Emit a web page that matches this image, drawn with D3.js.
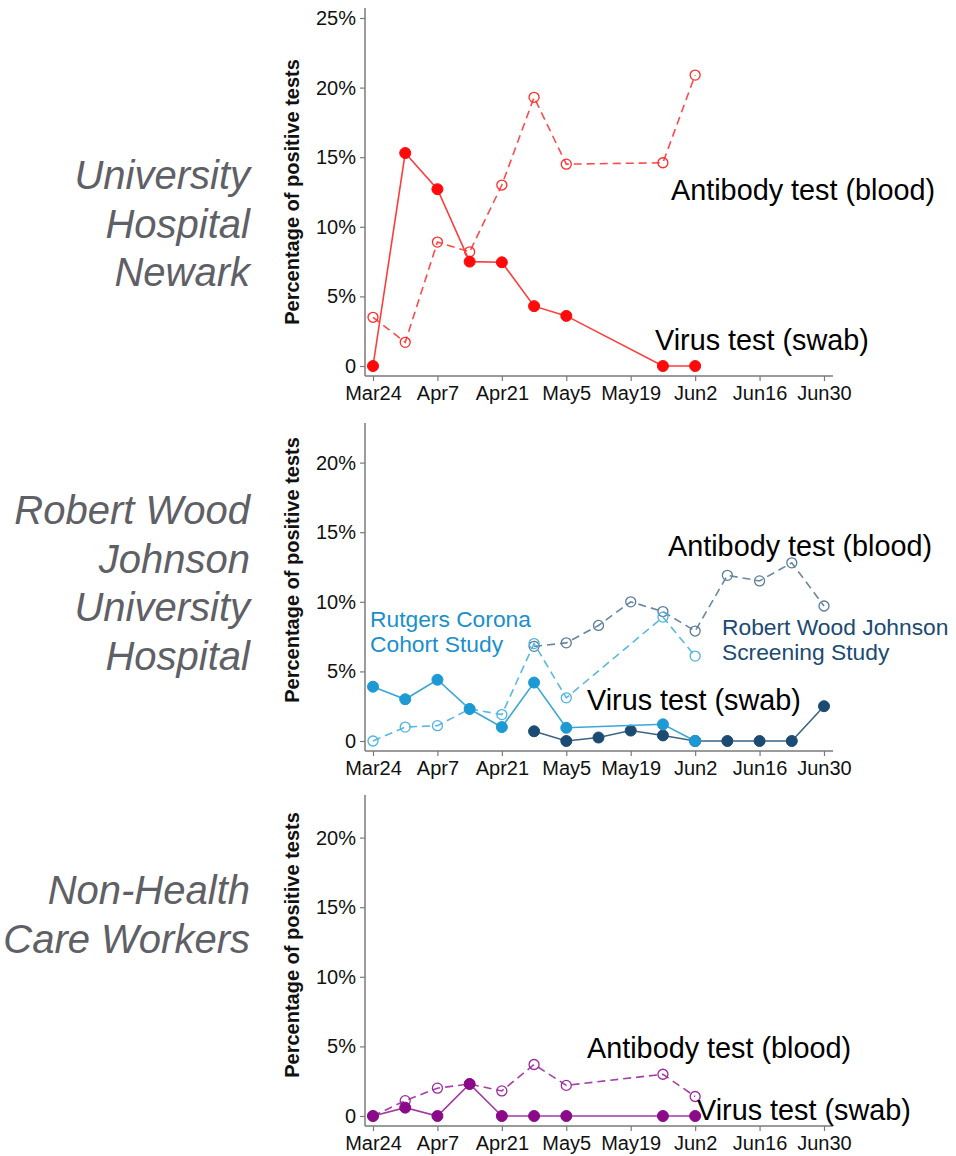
<!DOCTYPE html>
<html><head><meta charset="utf-8">
<script src="https://cdn.jsdelivr.net/npm/d3@7"></script>
<style>
html,body{margin:0;padding:0;background:#fff;}
svg{display:block;font-family:"Liberation Sans",Arial,Helvetica,sans-serif;}
</style></head>
<body>
<script>
// ---------- data ----------
const xTickLabels = ["Mar24","Apr7","Apr21","May5","May19","Jun2","Jun16","Jun30"];
const xTickDates = ["2020-03-24","2020-04-07","2020-04-21","2020-05-05","2020-05-19","2020-06-02","2020-06-16","2020-06-30"];

const weeklyDates = ["2020-03-24","2020-03-31","2020-04-07","2020-04-14","2020-04-21","2020-04-28","2020-05-05","2020-05-26","2020-06-02"];

const newarkVirus    = [0, 15.3, 12.7, 7.5, 7.45, 4.3, 3.6, 0, 0];
const newarkAntibody = [3.5, 1.7, 8.9, 8.2, 13.0, 19.3, 14.5, 14.6, 20.9];

const rutgersVirus    = [3.9, 3.0, 4.4, 2.3, 1.0, 4.2, 0.95, 1.2, 0];
const rutgersAntibody = [0, 1.0, 1.1, 2.3, 1.9, 7.0, 3.1, 8.9, 6.1];

const rwjDates    = ["2020-04-28","2020-05-05","2020-05-12","2020-05-19","2020-05-26","2020-06-02","2020-06-09","2020-06-16","2020-06-23","2020-06-30"];
const rwjVirus    = [0.7, 0, 0.25, 0.75, 0.4, 0, 0, 0, 0, 2.5];
const rwjAntibody = [6.8, 7.05, 8.3, 10.0, 9.3, 7.9, 11.9, 11.5, 12.8, 9.7];

const nonHcwVirus    = [0, 0.6, 0, 2.3, 0, 0, 0, 0, 0];
const nonHcwAntibody = [0, 1.1, 2.0, 2.3, 1.8, 3.7, 2.2, 3.0, 1.4];

const panelTitles = [
  ["University","Hospital","Newark"],
  ["Robert Wood","Johnson","University","Hospital"],
  ["Non-Health","Care Workers"]
];
const yTitle = "Percentage of positive tests";

// ---------- layout ----------
const W = 956, H = 1156;
const parse = d3.timeParse("%Y-%m-%d");
const svg = d3.select("body").append("svg").attr("width", W).attr("height", H);

const x = d3.scaleTime()
  .domain([parse("2020-03-24"), parse("2020-06-30")])
  .range([373, 824]);

const axisColor = "#7a7a7a";

function makePanel(cfg) {
  const y = d3.scaleLinear().domain([0, 5]).range([cfg.y0, cfg.y0 - 69.6]);
  const g = svg.append("g");

  // y axis
  g.append("line").attr("x1", 365).attr("x2", 365)
    .attr("y1", cfg.axisTop).attr("y2", cfg.xAxisY)
    .attr("stroke", axisColor).attr("stroke-width", 1.5);
  const yAx = d3.axisLeft(y).tickValues(cfg.yTicks).tickSize(5).tickPadding(4)
    .tickFormat(d => d === 0 ? "0" : d + "%");
  const gy = g.append("g").attr("transform", "translate(365,0)").call(yAx);
  gy.select(".domain").remove();
  gy.selectAll(".tick line").attr("stroke", axisColor).attr("stroke-width", 1.2);
  gy.selectAll(".tick text").attr("font-size", 20).attr("fill", "#111")
    .attr("font-family", "'Liberation Sans', Arial, sans-serif");

  // x axis
  g.append("line").attr("x1", 365).attr("x2", 833)
    .attr("y1", cfg.xAxisY).attr("y2", cfg.xAxisY)
    .attr("stroke", axisColor).attr("stroke-width", 1.5);
  const xAx = d3.axisBottom(x).tickValues(xTickDates.map(parse)).tickSize(5).tickPadding(5)
    .tickFormat((d, i) => xTickLabels[i]);
  const gx = g.append("g").attr("transform", `translate(0,${cfg.xAxisY})`).call(xAx);
  gx.select(".domain").remove();
  gx.selectAll(".tick line").attr("stroke", axisColor).attr("stroke-width", 1.2);
  gx.selectAll(".tick text").attr("font-size", 20).attr("fill", "#111")
    .attr("font-family", "'Liberation Sans', Arial, sans-serif");

  // y title
  g.append("text")
    .attr("transform", `translate(299,${cfg.yTitleY}) rotate(-90)`)
    .attr("text-anchor", "middle")
    .attr("font-size", 20).attr("font-weight", "bold").attr("fill", "#111")
    .text(yTitle);

  // panel title
  const t = g.append("text").attr("text-anchor", "end")
    .attr("font-size", 40).attr("font-style", "italic").attr("fill", "#5f6066");
  cfg.title.forEach((line, i) => {
    t.append("tspan").attr("x", 250).attr("y", cfg.titleY + i * 48.5).text(line);
  });

  const line = d3.line().x(d => x(d.date)).y(d => y(d.v));

  cfg.series.forEach(s => {
    const pts = s.dates.map((d, i) => ({ date: parse(d), v: s.values[i] }));
    g.append("path").datum(pts).attr("d", line)
      .attr("fill", "none").attr("stroke", s.lineColor || s.color)
      .attr("stroke-width", 1.6)
      .attr("stroke-dasharray", s.dashed ? "8,5" : null);
    g.selectAll(null).data(pts).enter().append("circle")
      .attr("cx", d => x(d.date)).attr("cy", d => y(d.v))
      .attr("r", s.dashed ? 5 : 5.5)
      .attr("fill", s.dashed ? "none" : s.color)
      .attr("stroke", s.color).attr("stroke-width", s.dashed ? 1.3 : 1);
  });

  cfg.labels.forEach(l => {
    const tx = g.append("text").attr("font-size", l.size).attr("fill", l.color)
      .attr("dominant-baseline", "central");
    l.lines.forEach((ln, i) => {
      tx.append("tspan").attr("x", l.x).attr("y", l.y + i * l.lh).text(ln);
    });
  });
}

makePanel({
  y0: 366, axisTop: 8, xAxisY: 376, yTicks: [0,5,10,15,20,25], yTitleY: 192,
  title: panelTitles[0], titleY: 189,
  series: [
    { dates: weeklyDates, values: newarkAntibody, color: "#ff2a2a", lineColor: "#ff4a4a", dashed: true },
    { dates: weeklyDates, values: newarkVirus, color: "#ff0a0a", lineColor: "#ff3b3b", dashed: false }
  ],
  labels: [
    { lines: ["Antibody test (blood)"], x: 671, y: 190, size: 28.8, color: "#000", lh: 0 },
    { lines: ["Virus test (swab)"], x: 655, y: 340, size: 28.8, color: "#000", lh: 0 }
  ]
});

makePanel({
  y0: 741, axisTop: 423, xAxisY: 751, yTicks: [0,5,10,15,20], yTitleY: 570,
  title: panelTitles[1], titleY: 524,
  series: [
    { dates: rwjDates, values: rwjAntibody, color: "#5b7b98", lineColor: "#6a87a2", dashed: true },
    { dates: weeklyDates, values: rutgersAntibody, color: "#4db2e2", lineColor: "#5ab8e4", dashed: true },
    { dates: rwjDates, values: rwjVirus, color: "#1b4a72", lineColor: "#3d6486", dashed: false },
    { dates: weeklyDates, values: rutgersVirus, color: "#1d9ad3", lineColor: "#3aa7d9", dashed: false }
  ],
  labels: [
    { lines: ["Antibody test (blood)"], x: 668, y: 546, size: 28.8, color: "#000", lh: 0 },
    { lines: ["Virus test (swab)"], x: 587, y: 700, size: 28.8, color: "#000", lh: 0 }, 
    { lines: ["Rutgers Corona","Cohort Study"], x: 370, y: 619, size: 22.8, color: "#1a8fcc", lh: 25 },
    { lines: ["Robert Wood Johnson","Screening Study"], x: 722, y: 627, size: 22.8, color: "#1b4a72", lh: 25 }
  ]
});

makePanel({
  y0: 1116, axisTop: 795, xAxisY: 1126, yTicks: [0,5,10,15,20], yTitleY: 945,
  title: panelTitles[2], titleY: 904,
  series: [
    { dates: weeklyDates, values: nonHcwAntibody, color: "#9b2a9b", lineColor: "#a640a6", dashed: true },
    { dates: weeklyDates, values: nonHcwVirus, color: "#8a0a8a", lineColor: "#a23aa2", dashed: false }
  ],
  labels: [
    { lines: ["Antibody test (blood)"], x: 587, y: 1048, size: 28.8, color: "#000", lh: 0 },
    { lines: ["Virus test (swab)"], x: 697, y: 1110, size: 28.8, color: "#000", lh: 0 }
  ]
});
</script>
</body></html>
